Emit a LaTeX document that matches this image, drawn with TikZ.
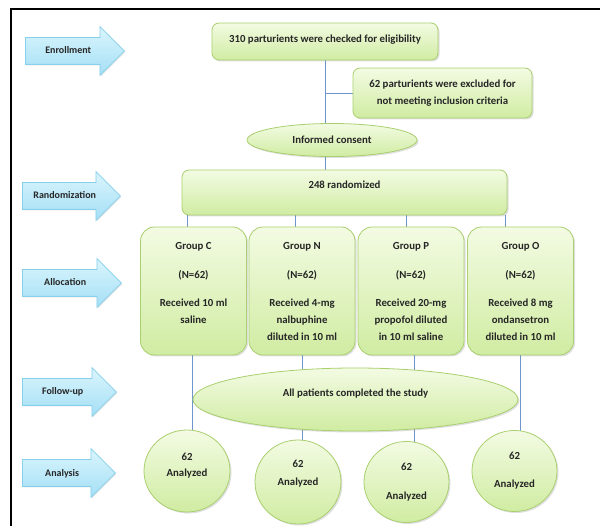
\documentclass[tikz,border=0pt]{standalone}
\usepackage{fontspec}
\setmainfont{Carlito}
\usetikzlibrary{shapes.geometric,shapes.arrows,shadows,backgrounds}
\definecolor{boxline}{HTML}{A9CF6E}
\definecolor{boxtop}{HTML}{F3FBE3}
\definecolor{boxbot}{HTML}{D0ECA2}
\definecolor{arrline}{HTML}{86D0EC}
\definecolor{arrtop}{HTML}{DAF5FD}
\definecolor{arrbot}{HTML}{A4DFF5}
\definecolor{linkcol}{HTML}{6F96CC}

\begin{document}
\begin{tikzpicture}[x=1pt,y=-1pt,
  every node/.style={font=\bfseries\fontsize{10.8}{13}\selectfont,text=black!85,inner sep=2pt},
  greenfill/.style={draw=boxline,line width=0.8pt,top color=boxtop,bottom color=boxbot,
    drop shadow={opacity=0.25,shadow xshift=1.5pt,shadow yshift=-1.5pt}},
  box/.style={greenfill,rectangle,rounded corners=7pt},
  grp/.style={box,rounded corners=14pt,minimum width=106pt,minimum height=128pt,
    align=center,font=\bfseries\fontsize{10.8}{17}\selectfont},
  oval/.style={greenfill,ellipse,inner sep=0pt},
  ana/.style={oval,align=center},
  stage/.style={single arrow,draw=arrline,line width=0.8pt,top color=arrtop,bottom color=arrbot,
    single arrow head extend=11pt,minimum width=48pt,inner ysep=8pt,text height=8pt,text depth=2pt,
    anchor=tail,font=\bfseries\fontsize{10}{12}\selectfont,
    drop shadow={opacity=0.2,shadow xshift=1pt,shadow yshift=-1pt}},
  link/.style={draw=linkcol,line width=0.8pt}]
\useasboundingbox (0,0) rectangle (600,526);
% frame
\draw[line width=2.5pt] (11,526) -- (11,9) -- (600,9);

% stages
\node[stage,minimum height=99pt] (enrol) at (25,51) {Enrollment};
\node[stage,minimum height=98pt] (randm) at (22,196) {Randomization};
\node[stage,minimum height=99pt] (alloc) at (22,283) {Allocation};
\node[stage,minimum height=94pt] (follow) at (22,392) {Follow-up};
\node[stage,minimum height=93pt] (analys) at (22,473) {Analysis};

% boxes
\node[box,minimum width=226pt,minimum height=37pt,text depth=6pt] (elig) at (325,41.5)
  {310 parturients were checked for eligibility};
\node[box,minimum width=179pt,minimum height=50pt,align=center] (excl) at (442.5,93)
  {62 parturients were excluded for\\[4pt]not meeting inclusion criteria};
\node[oval,minimum width=170pt,minimum height=33pt] (consent) at (332,140) {Informed consent};
\node[box,minimum width=325pt,minimum height=45pt,text depth=15pt] (rand) at (344.5,192.5)
  {248 randomized};

\node[grp] (grpC) at (193.5,291) {Group C\\[12pt](N=62)\\[11pt]Received 10 ml\\saline\\\mbox{}};
\node[grp] (grpN) at (302,291) {Group N\\[12pt](N=62)\\[11pt]Received 4-mg\\nalbuphine\\diluted in 10 ml};
\node[grp] (grpP) at (411,291) {Group P\\[12pt](N=62)\\[11pt]Received 20-mg\\propofol diluted\\in 10 ml saline};
\node[grp] (grpO) at (520.5,291) {Group O\\[12pt](N=62)\\[11pt]Received 8 mg\\ondansetron\\diluted in 10 ml};

\node[oval,minimum width=325pt,minimum height=63pt,text depth=13pt] (done) at (355.5,399.5)
  {All patients completed the study};

\node[ana,minimum width=86pt,minimum height=82pt] (anC) at (187,471) {62\\[3pt]Analyzed\\[0pt]\mbox{}};
\node[ana,minimum width=86pt,minimum height=84pt] (anN) at (298,482) {62\\[5pt]Analyzed\\[5pt]\mbox{}};
\node[ana,minimum width=85pt,minimum height=81pt] (anP) at (406.5,482) {62\\[16pt]Analyzed};
\node[ana,minimum width=85pt,minimum height=81pt] (anO) at (514.5,471) {62\\[15pt]Analyzed};

% connectors
\begin{scope}[on background layer]
\draw[link] (elig.south) -- (elig.south |- rand.north);
\draw[link] (elig.south |- excl.west) -- (excl.west);
\foreach \g/\s in {grpC/-6.5,grpN/-7,grpP/-5,grpO/-15.5}
  \draw[link] ([xshift=\s pt]\g.north) -- ([xshift=\s pt]\g.north |- rand.south);
\foreach \g/\a/\s in {grpC/anC/-1.5,grpN/anN/0,grpP/anP/3,grpO/anO/-0.5}
  \draw[link] ([xshift=\s pt]\g.south) -- ([xshift=\s pt]\g.south |- \a.center);
\end{scope}
\end{tikzpicture}
\end{document}
